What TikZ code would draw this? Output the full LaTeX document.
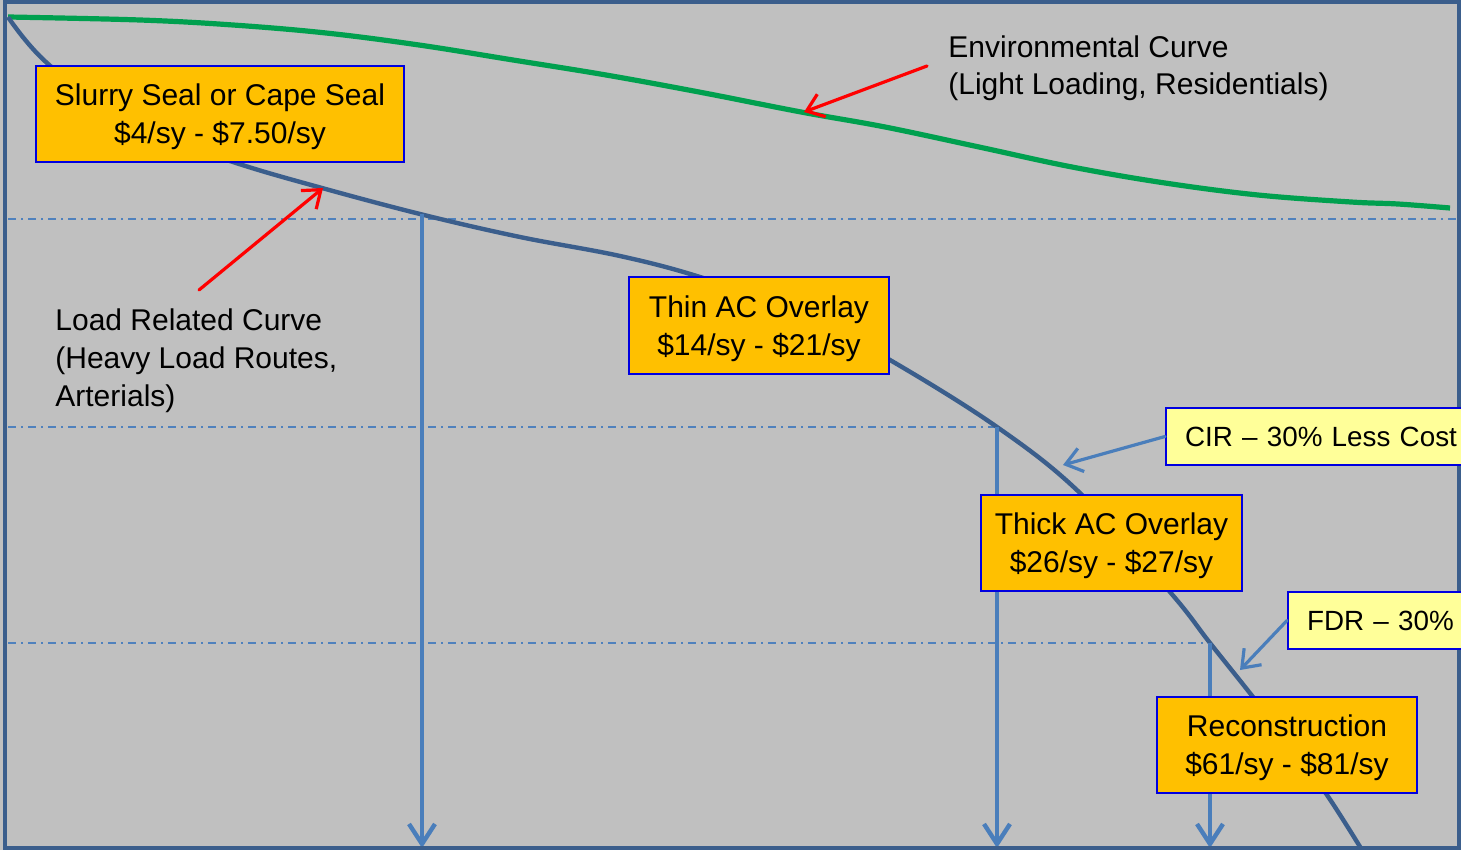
\documentclass[tikz,border=0pt]{standalone}
\usepackage{fontspec}
\setmainfont{Liberation Sans}
\usetikzlibrary{arrows.meta}
\definecolor{bg}{HTML}{C0C0C0}
\definecolor{framecol}{HTML}{3B5E8C}
\definecolor{envgreen}{HTML}{00A04F}
\definecolor{arrblue}{HTML}{4A7EBB}
\definecolor{dashblue}{HTML}{4F81BD}
\definecolor{boxorange}{HTML}{FFC000}
\definecolor{boxyellow}{HTML}{FFFF99}
\definecolor{boxedge}{HTML}{0000E0}
\definecolor{redarrow}{HTML}{FF0000}
\newcommand\topstrut{\rule{0pt}{13.8pt}}
\begin{document}
\begin{tikzpicture}[x=0.5pt,y=-0.5pt,
  font=\fontsize{15}{19}\selectfont,
  costbox/.style={draw=boxedge, line width=1pt, fill=boxorange, align=center, inner sep=0pt},
  notebox/.style={draw=boxedge, line width=1pt, fill=boxyellow, anchor=west, align=left,
    text width=160pt, inner xsep=9.5pt, inner ysep=0pt, minimum height=28.5pt,
    font=\fontsize{13.9}{19}\selectfont},
  label/.style={anchor=base west, align=left, inner sep=0pt},
  levelline/.style={dashblue, line width=0.75pt, dash pattern=on 4pt off 2.5pt on 1pt off 2.5pt},
  dropline/.style={arrblue, line width=2.2pt, -{Straight Barb[length=10pt,width=13pt,line width=2.2pt]}},
  callred/.style={redarrow, line width=1.6pt, line cap=round, -{Straight Barb[length=8pt,width=12pt,line width=1.6pt]}},
  callblue/.style={arrblue, line width=1.6pt, line cap=round, -{Straight Barb[length=8pt,width=12pt,line width=1.6pt]}},
  curveline/.style={framecol, line width=2.2pt}
]
\useasboundingbox (0,0) rectangle (1461,850);
\clip (0,0) rectangle (1461,850);
\fill[bg] (0,0) rectangle (1461,850);

% points on the load curve
\coordinate (p1) at (422,214);
\coordinate (p2) at (997,427);
\coordinate (p3) at (1210,643);
\coordinate (b1) at (422,848);
\coordinate (b2) at (997,848);
\coordinate (b3) at (1210,848);
\coordinate (l1) at (8,219);
\coordinate (r1) at (1457,219);
\coordinate (l2) at (8,427);
\coordinate (l3) at (8,643);

% level lines
\draw[levelline] (l1) -- (r1);
\draw[levelline] (l2) -- (p2);
\draw[levelline] (l3) -- (p3);

% environmental curve
\draw[envgreen, line width=2.6pt] plot[smooth, tension=0.6] coordinates {
  (8,17) (140,20) (233,25) (326,33) (419,45) (513,60) (606,75) (699,92)
  (801,112) (885,127) (979,147) (1072,167) (1165,183) (1258,195) (1351,202)
  (1398,204) (1450,208)};

% load related curve
\draw[curveline] plot[smooth, tension=0.6] coordinates {
  (8,17) (47,63) (130,125) (233,162) (322,188) (424,215) (520,237) (620,256)
  (700,277) (800,312) (890,360) (997,427) (1080,493) (1170,592) (1210,643)
  (1253,697) (1290,745) (1327,795) (1362,850)};

% vertical drop arrows
\draw[dropline] (p1) -- (b1);
\draw[dropline] (p2) -- (b2);
\draw[dropline] (p3) -- (b3);

% frame
\draw[framecol, line width=2pt] (5,2) rectangle (1459,848);

% cost boxes
\node[costbox, minimum width=184pt, minimum height=48pt] (slurry) at (220,114)
  {\topstrut Slurry Seal or Cape Seal\\\$4/sy - \$7.50/sy};
\node[costbox, minimum width=130pt, minimum height=48.5pt] (thin) at (759,325.5)
  {\topstrut Thin AC Overlay\\\$14/sy - \$21/sy};
\node[costbox, minimum width=130.5pt, minimum height=48pt] (thick) at (1111.5,543)
  {\topstrut Thick AC Overlay\\\$26/sy - \$27/sy};
\node[costbox, minimum width=130pt, minimum height=48pt] (recon) at (1287,745)
  {\topstrut Reconstruction\\\$61/sy - \$81/sy};

% note boxes (running past the picture edge)
\node[notebox] (cir) at (1165,436.5) {CIR -- 30\% Less Cost};
\node[notebox] (fdr) at (1287,620.5) {FDR -- 30\%};

% text labels (anchored at the baseline of the last line)
\node[label, font=\fontsize{15}{18.5}\selectfont] (env) at (948,95)
  {Environmental Curve\\(Light Loading, Residentials)};
\node[label] (load) at (55,406) {Load Related Curve\\(Heavy Load Routes,\\Arterials)};

% callout arrows
\coordinate (envstart) at (927,66);
\coordinate (envtip) at (804,112);
\coordinate (loadstart) at (199,290);
\coordinate (loadtip) at (323,188);
\coordinate (ciratip) at (1063,465);
\coordinate (fdrtip) at (1240,670);
\draw[callred] (envstart) -- (envtip);
\draw[callred] (loadstart) -- (loadtip);
\draw[callblue] (cir.west) -- (ciratip);
\draw[callblue] (fdr.west) -- (fdrtip);
\end{tikzpicture}
\end{document}
